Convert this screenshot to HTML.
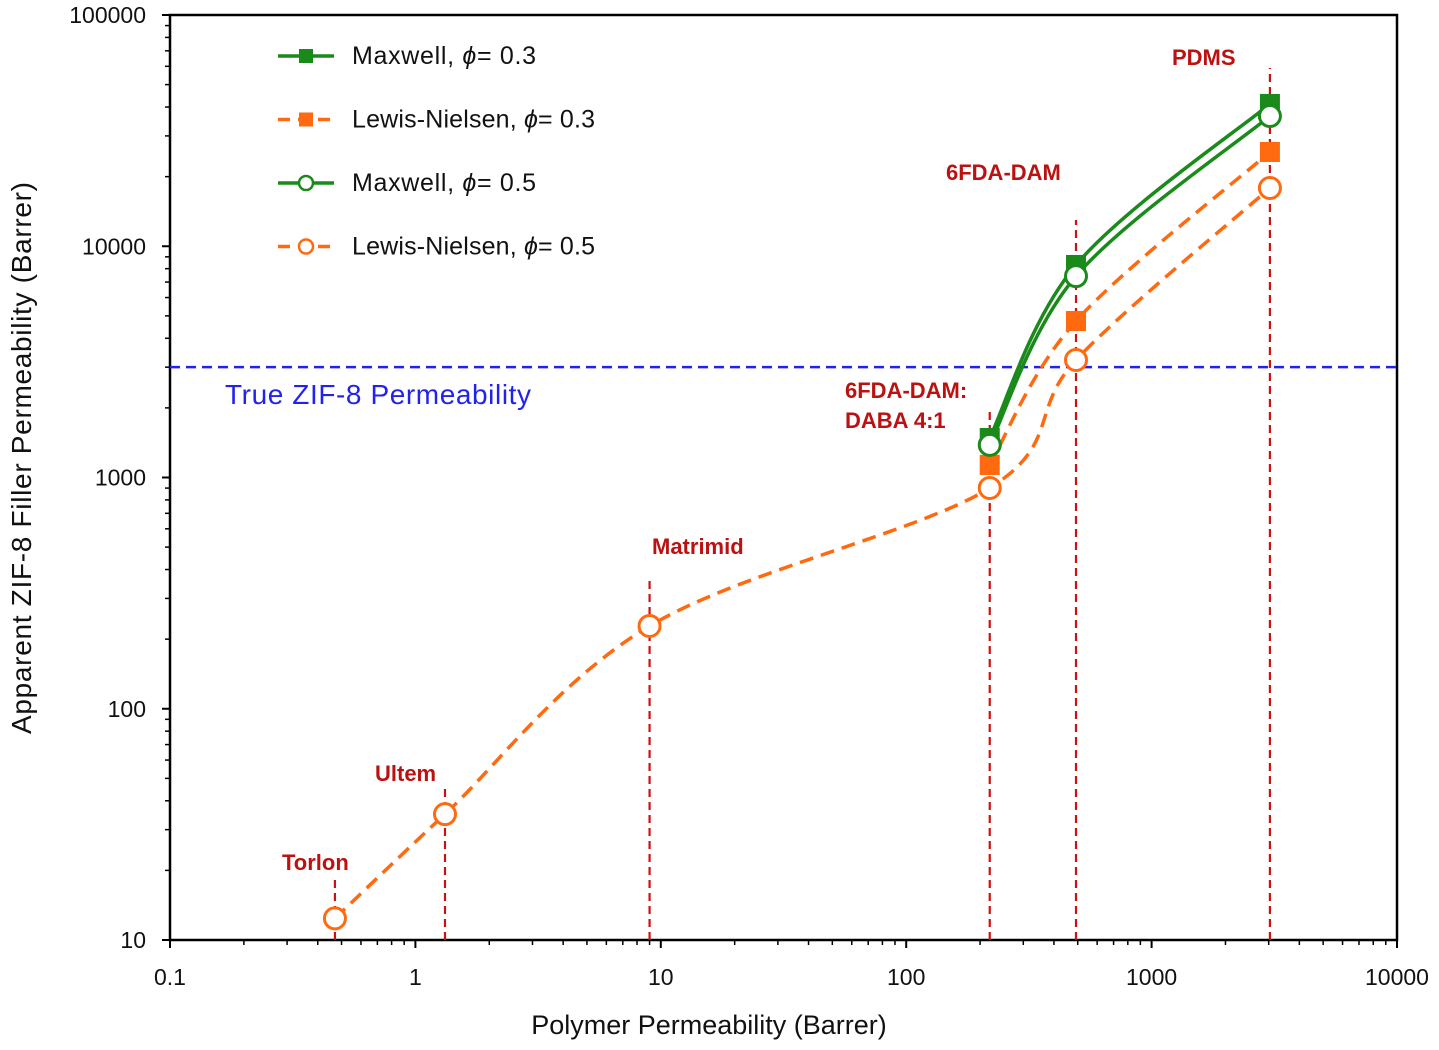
<!DOCTYPE html>
<html><head><meta charset="utf-8"><style>
html,body{margin:0;padding:0;background:#fff;}
svg{display:block;font-family:"Liberation Sans",Arial,sans-serif;}
</style></head><body>
<svg id="chart" width="1439" height="1050" viewBox="0 0 1439 1050" xmlns="http://www.w3.org/2000/svg"></svg>
<script>
const polymers = ["Torlon","Ultem","Matrimid","6FDA-DAM:DABA 4:1","6FDA-DAM","PDMS"];
const polymerPerm = [0.47, 1.32, 9.0, 219, 492, 3035];
const ln05 = [12.4, 35, 228, 901, 3221, 17860];
const ln03 = [null, null, null, 1133, 4750, 25570];
const mx05 = [null, null, null, 1383, 7430, 36560];
const mx03 = [null, null, null, 1482, 8300, 41250];
const trueZif8 = 3000;
const xTicks = [0.1, 1, 10, 100, 1000, 10000];
const xTickLabels = ["0.1","1","10","100","1000","10000"];
const yTicks = [10, 100, 1000, 10000, 100000];
const yTickLabels = ["10","100","1000","10000","100000"];

const L=170,R=1397,T=15,B=940;
const xs=v=>L+(Math.log10(v)+1)/5*(R-L);
const ys=v=>B-(Math.log10(v)-1)/4*(B-T);
const svg=document.getElementById('chart');
const NS="http://www.w3.org/2000/svg";
function mk(tag,attrs,name,parent){const e=document.createElementNS(NS,tag);for(const k in attrs)e.setAttribute(k,attrs[k]);


(parent||svg).appendChild(e);return e;}
function txt(x,y,s,name,opt){const e=mk('text',Object.assign({x:x,y:y,'font-size':23,fill:'#111'},opt||{}),name);e.textContent=s;return e;}

// ticks
xTicks.forEach((t,i)=>{mk('line',{x1:xs(t),x2:xs(t),y1:B,y2:B+8,stroke:'#000','stroke-width':2},'x-tick');
 txt(xs(t),B+45,xTickLabels[i],'x-tick-label',{'text-anchor':'middle'});
 if(i<xTicks.length-1)for(let m=2;m<10;m++){const v=t*m;mk('line',{x1:xs(v),x2:xs(v),y1:B,y2:B+5,stroke:'#000','stroke-width':1.5},'x-minor-tick');}});
yTicks.forEach((t,i)=>{mk('line',{x1:L-8,x2:L,y1:ys(t),y2:ys(t),stroke:'#000','stroke-width':2},'y-tick');
 txt(L-24,ys(t)+8,yTickLabels[i],'y-tick-label',{'text-anchor':'end'});
 if(i<yTicks.length-1)for(let m=2;m<10;m++){const v=t*m;mk('line',{x1:L-5,x2:L,y1:ys(v),y2:ys(v),stroke:'#000','stroke-width':1.5},'y-minor-tick');}});
mk('rect',{x:L,y:T,width:R-L,height:B-T,fill:'none',stroke:'#000','stroke-width':2.5},'plot-frame');
txt(709,1034,'Polymer  Permeability  (Barrer)','x-axis-title',{'text-anchor':'middle','font-size':27});
txt(0,0,'Apparent  ZIF-8 Filler Permeability  (Barrer)','y-axis-title',{'text-anchor':'middle','font-size':28,'textLength':552,transform:`translate(31,458) rotate(-90)`});

// true line
mk('line',{x1:L,x2:R,y1:ys(trueZif8),y2:ys(trueZif8),stroke:'#2222ee','stroke-width':2.5,'stroke-dasharray':'10,6'},'true-zif8-line');
txt(225,404,'True ZIF-8 Permeability','true-zif8-label',{fill:'#2222ee','font-size':28,'textLength':306});

// vertical polymer lines
const vtops=[880,787,578,410,220,68];
const labelPos=[[282,870],[375,781],[652,554],[845,398],[946,180],[1172,65]];
polymers.forEach((p,i)=>{const x=xs(polymerPerm[i]);
 mk('line',{x1:x,x2:x,y1:B,y2:vtops[i],stroke:'#cc1111','stroke-width':2.2,'stroke-dasharray':'8,5'},'polymer-line');
 if(p.indexOf(':')>0){txt(labelPos[i][0],labelPos[i][1],'6FDA-DAM:','polymer-label',{fill:'#bb1111','font-weight':'bold','font-size':22});
  txt(labelPos[i][0],labelPos[i][1]+30,'DABA  4:1','polymer-label',{fill:'#bb1111','font-weight':'bold','font-size':22});}
 else txt(labelPos[i][0],labelPos[i][1],p,'polymer-label',{fill:'#bb1111','font-weight':'bold','font-size':22});});

function smooth(pts){if(pts.length<2)return'';let d=`M${pts[0][0]},${pts[0][1]}`;
 for(let i=0;i<pts.length-1;i++){const p0=pts[i-1]||pts[i],p1=pts[i],p2=pts[i+1],p3=pts[i+2]||p2;const k=1/6;
  d+=` C${p1[0]+(p2[0]-p0[0])*k},${p1[1]+(p2[1]-p0[1])*k} ${p2[0]-(p3[0]-p1[0])*k},${p2[1]-(p3[1]-p1[1])*k} ${p2[0]},${p2[1]}`;}return d;}
const series=[
 {d:mx03,c:'#1a8a1a',dash:'',m:'sq',name:'maxwell-0.3'},
 {d:ln03,c:'#ff6a10',dash:'14,8',m:'sq',name:'lewis-nielsen-0.3'},
 {d:mx05,c:'#1a8a1a',dash:'',m:'ci',name:'maxwell-0.5'},
 {d:ln05,c:'#ff6a10',dash:'14,8',m:'ci',name:'lewis-nielsen-0.5'}];
series.forEach(s=>{const pts=[];s.d.forEach((v,i)=>{if(v!=null)pts.push([xs(polymerPerm[i]),ys(v)]);});
 mk('path',{d:smooth(pts),fill:'none',stroke:s.c,'stroke-width':3.5,'stroke-dasharray':s.dash},'series-line-'+s.name);
 pts.forEach(p=>{if(s.m==='sq')mk('rect',{x:p[0]-10,y:p[1]-10,width:20,height:20,fill:s.c},'marker-'+s.name);
  else mk('circle',{cx:p[0],cy:p[1],r:10.5,fill:'#fff',stroke:s.c,'stroke-width':3},'marker-'+s.name);});});

// legend
const labels=['Maxwell, ','Lewis-Nielsen, ','Maxwell, ','Lewis-Nielsen, '];const phis=['0.3','0.3','0.5','0.5'];
const legW=[184,243,184,243];
series.forEach((s,i)=>{const y=56+i*63.5;
 mk('line',{x1:278,x2:334,y1:y,y2:y,stroke:s.c,'stroke-width':3.5,'stroke-dasharray':s.dash?'12,8':''},'legend-line');
 if(s.m==='sq')mk('rect',{x:299,y:y-7,width:14,height:14,fill:s.c},'legend-marker');
 else mk('circle',{cx:306,cy:y,r:7,fill:'#fff',stroke:s.c,'stroke-width':2.5},'legend-marker');
 const t=txt(352,y+8,'','legend-entry',{'font-size':25,textLength:legW[i]});
 t.innerHTML=labels[i]+'<tspan font-style="italic">ϕ</tspan>= '+phis[i];});
</script>
</body></html>
